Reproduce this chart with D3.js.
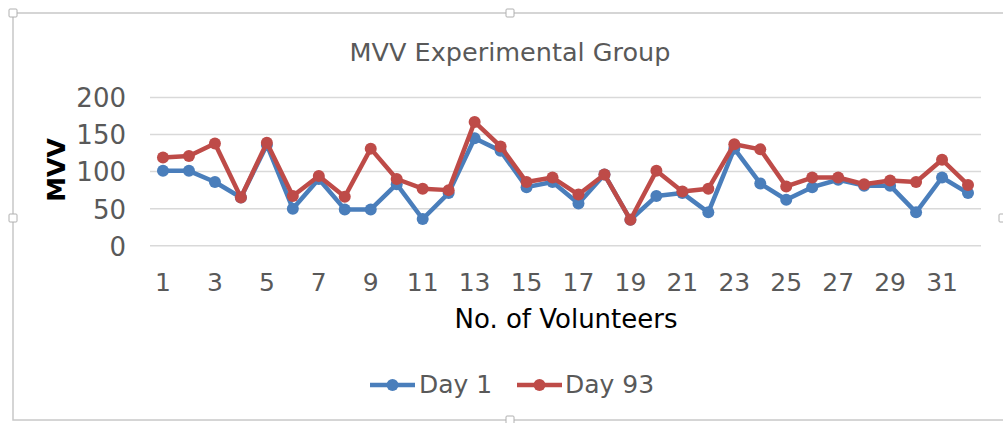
<!DOCTYPE html>
<html><head><meta charset="utf-8">
<script src="https://cdn.jsdelivr.net/npm/d3@7"></script>
<style>body{margin:0;background:#fff}svg{display:block}</style>
</head><body>
<svg id="c" width="1003" height="423"></svg>
<script>
const volunteers = d3.range(1, 33);
const day1 = [101,101,86,65,136,50,90,49,49,83,36,71,145,128,79,86,57,96,35,67,71,45,131,84,62,79,89,81,81,45,92,71];
const day93 = [119,121,138,65,139,67,94,66,131,90,77,75,167,134,86,92,69,96,35,101,73,77,137,130,80,92,92,83,88,86,116,82];
const yTicks = [0,50,100,150,200];
const seriesNames = ["Day 1","Day 93"];
const colors = ["#4a7ebb","#be4b48"];
const FONT = "DejaVu Sans";

const svg = d3.select("#c");
// frame
svg.append("rect").attr("x",13).attr("y",13).attr("width",1010).attr("height",407)
  .attr("fill","#fff").attr("stroke","#c8c8c8").attr("stroke-width",1.5);
[[13,13],[510,13],[13,218],[510,420],[1003,218]].forEach(([x,y])=>{
  svg.append("rect").attr("x",x-4).attr("y",y-4).attr("width",8).attr("height",8).attr("rx",1)
    .attr("fill","#fff").attr("stroke","#b0b0b0");
});

const x = d3.scaleBand().domain(volunteers).range([150,981]);
const y = d3.scaleLinear().domain([0,200]).range([245.7,97.5]);
const g = svg.append("g");

// grid
g.selectAll(".grid").data(yTicks).join("line")
  .attr("x1",150).attr("x2",981).attr("y1",d=>y(d)).attr("y2",d=>y(d))
  .attr("stroke","#d9d9d9").attr("stroke-width",1.5);

// y axis labels
const yAxis = d3.axisLeft(y).tickValues(yTicks).tickSize(0).tickPadding(0);
const ya = svg.append("g").attr("transform","translate(126,0)").call(yAxis);
ya.select(".domain").remove();
ya.selectAll("text").attr("font-family",FONT).attr("font-size",26).attr("fill","#595959").attr("dy","0.36em");

// x axis labels
const xAxis = d3.axisBottom(x).tickValues(volunteers.filter(d=>d%2===1)).tickSize(0).tickPadding(0);
const xa = svg.append("g").attr("transform","translate(0,291)").call(xAxis);
xa.select(".domain").remove();
xa.selectAll("text").attr("font-family",FONT).attr("font-size",25).attr("fill","#595959").attr("dy","0");

const cx = d=>x(d)+x.bandwidth()/2;
[day1,day93].forEach((vals,i)=>{
  const pts = volunteers.map((v,j)=>[v,vals[j]]);
  g.append("path").datum(pts)
    .attr("d", d3.line().x(d=>cx(d[0])).y(d=>y(d[1])))
    .attr("fill","none").attr("stroke",colors[i]).attr("stroke-width",4.5).attr("stroke-linejoin","round");
  g.selectAll(".m"+i).data(pts).join("circle")
    .attr("cx",d=>cx(d[0])).attr("cy",d=>y(d[1])).attr("r",6).attr("fill",colors[i]);
});

// titles
svg.append("text").attr("x",510).attr("y",61).attr("text-anchor","middle")
  .attr("font-family",FONT).attr("font-size",25.5).attr("fill","#595959").text("MVV Experimental Group");
svg.append("text").attr("x",566).attr("y",328).attr("text-anchor","middle")
  .attr("font-family",FONT).attr("font-size",26).attr("fill","#000").text("No. of Volunteers");
svg.append("text").attr("transform","translate(65,170) rotate(-90)").attr("text-anchor","middle")
  .attr("font-family",FONT).attr("font-weight","bold").attr("font-size",25).attr("fill","#000").text("MVV");

// legend
const leg = [{x:370,tx:419},{x:517,tx:565}];
seriesNames.forEach((n,i)=>{
  const lg = svg.append("g");
  lg.append("line").attr("x1",leg[i].x).attr("x2",leg[i].x+45).attr("y1",385).attr("y2",385)
    .attr("stroke",colors[i]).attr("stroke-width",4.5);
  lg.append("circle").attr("cx",leg[i].x+22.5).attr("cy",385).attr("r",6).attr("fill",colors[i]);
  lg.append("text").attr("x",leg[i].tx).attr("y",393)
    .attr("font-family",FONT).attr("font-size",25).attr("fill","#595959").text(n);
});
</script>
</body></html>
